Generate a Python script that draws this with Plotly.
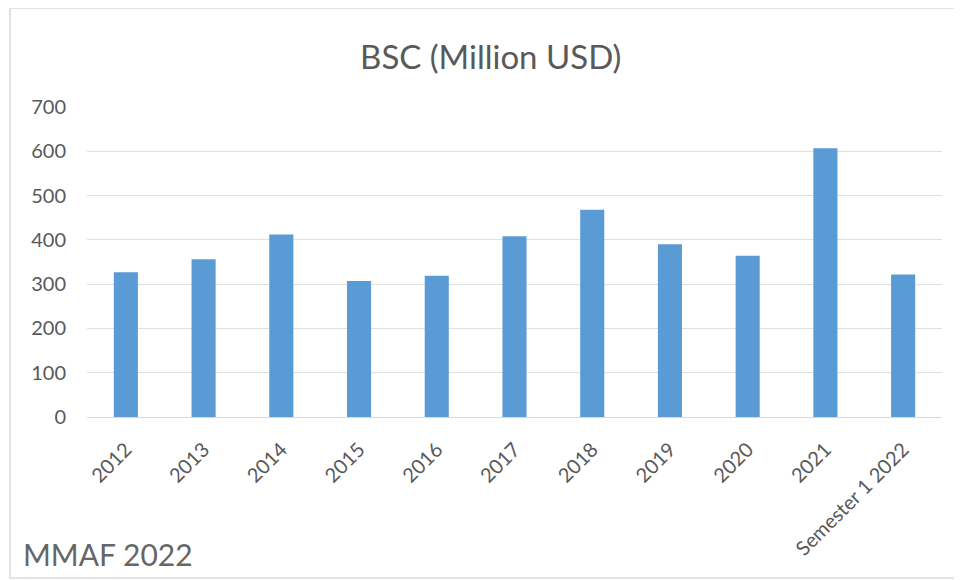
import plotly.graph_objects as go

categories = ["2012", "2013", "2014", "2015", "2016", "2017", "2018", "2019", "2020", "2021", "Semester 1 2022"]
values = [327, 356, 412, 307, 319, 408, 468, 390, 364, 607, 322]
y_ticks = [0, 100, 200, 300, 400, 500, 600, 700]

fig = go.Figure()
fig.add_trace(go.Bar(x=categories, y=values, marker=dict(color="#5b9bd5", line=dict(width=0)),
                     hoverinfo="x+y"))

font_family = "Lato, 'Open Sans', sans-serif"
# page body adds an 8px offset, so the figure is 8px smaller than the window
fig.update_layout(
    width=954, height=572,
    paper_bgcolor="white", plot_bgcolor="white",
    margin=dict(l=79, r=20, t=99, b=163),
    bargap=0.69,
    showlegend=False,
    title=dict(text="BSC (Million USD)", x=0.506, xanchor="center", y=0.914, yanchor="middle",
               font=dict(family=font_family, size=33, color="#595959")),
    font=dict(family=font_family, color="#595959"),
    xaxis=dict(type="category", tickangle=-45, tickfont=dict(size=20, color="#595959"),
               showgrid=False, showline=True, linecolor="#d9d9d9", linewidth=1, ticks="",
               ticklabelstandoff=12),
    yaxis=dict(range=[0, 700], tickvals=y_ticks, ticktext=[str(v) for v in y_ticks],
               showgrid=True, gridcolor="#e0e0e0", gridwidth=1, zeroline=False,
               tickfont=dict(size=20, color="#595959"), ticks="", ticklabelstandoff=20),
    shapes=[dict(type="rect", xref="paper", yref="paper",
                 x0=-77/855, x1=(955-87)/855, y0=-(578-417)/310, y1=(417-8)/310,
                 line=dict(color="#d9d9d9", width=1.5), fillcolor="rgba(0,0,0,0)", layer="below")],
    annotations=[dict(text="MMAF 2022", xref="paper", yref="paper",
                      x=-66/855, y=-(554-417)/310, xanchor="left", yanchor="middle",
                      showarrow=False, font=dict(family=font_family, size=30, color="#666666"))],
)

fig.write_html("out.html")
